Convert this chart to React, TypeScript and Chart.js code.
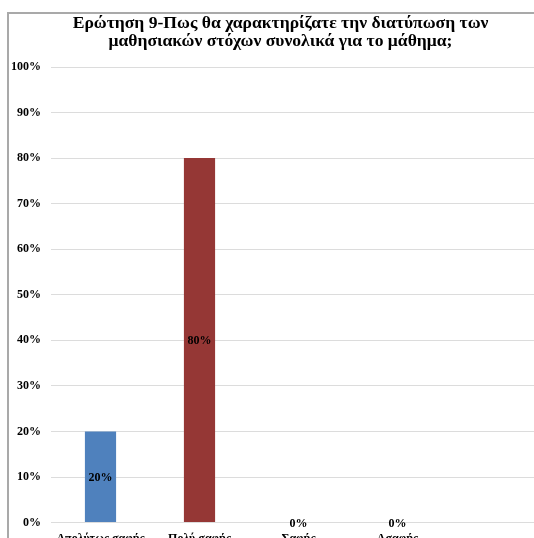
import React, { useEffect, useRef } from "react";
import { Chart, registerables } from "chart.js";

Chart.register(...registerables);

// Survey question 9: clarity of the stated learning goals (share of answers)
const titleLines = [
  "Ερώτηση 9-Πως θα χαρακτηρίζατε την διατύπωση των",
  "μαθησιακών στόχων συνολικά για το μάθημα;",
];
const categories = ["Απολύτως σαφής", "Πολύ σαφής", "Σαφής", "Ασαφής", ""];
const percentages: (number | null)[] = [20, 80, 0, 0, null];
const barColors = ["#4F81BD", "#953735", "#9BBB59", "#8064A2", "#4BACC6"];
const yTicks = [0, 10, 20, 30, 40, 50, 60, 70, 80, 90, 100];

const FONT = "'Liberation Serif', 'Times New Roman', serif";

// Two-line bold title, centred on the canvas
const chartTitle = {
  id: "chartTitle",
  afterDraw(chart: Chart) {
    const ctx = chart.ctx;
    ctx.save();
    ctx.font = `bold 17.6px ${FONT}`;
    ctx.fillStyle = "#000000";
    ctx.textAlign = "center";
    ctx.textBaseline = "middle";
    titleLines.forEach((line, i) => {
      ctx.fillText(line, chart.width / 2 - 1.5, 23 + i * 18.5);
    });
    ctx.restore();
  },
};

// Writes each bar's percentage in the middle of the bar
const valueLabels = {
  id: "valueLabels",
  afterDatasetsDraw(chart: Chart) {
    const ctx = chart.ctx;
    const meta = chart.getDatasetMeta(0);
    ctx.save();
    ctx.font = `bold 12px ${FONT}`;
    ctx.fillStyle = "#000000";
    ctx.textAlign = "center";
    ctx.textBaseline = "middle";
    meta.data.forEach((el: any, i: number) => {
      const v = percentages[i];
      if (v === null || v === undefined) return;
      const yMid = (el.y + el.base) / 2;
      ctx.fillText(`${v}%`, el.x, yMid + 1);
    });
    ctx.restore();
  },
};

export default function App() {
  const canvasRef = useRef<HTMLCanvasElement>(null);

  useEffect(() => {
    if (!canvasRef.current) return;
    const chart = new Chart(canvasRef.current, {
      type: "bar",
      data: {
        labels: categories,
        datasets: [
          {
            data: percentages,
            backgroundColor: barColors,
            borderWidth: 0,
            categoryPercentage: 1,
            barPercentage: 0.315,
          },
        ],
      },
      options: {
        responsive: false,
        animation: false,
        layout: { padding: { left: 10, right: 18, top: 67, bottom: 15 } },
        plugins: {
          legend: { display: false },
          tooltip: { enabled: false },
          title: { display: false },
        },
        scales: {
          x: {
            grid: { display: false, drawTicks: false },
            border: { display: false },
            ticks: {
              color: "#000000",
              font: { family: FONT, size: 12, weight: "bold" },
              padding: 9,
              maxRotation: 0,
              autoSkip: false,
            },
          },
          y: {
            min: 0,
            max: 100,
            afterFit(scale: any) {
              scale.width = 41;
            },
            afterBuildTicks(scale: any) {
              scale.ticks = yTicks.map((v) => ({ value: v }));
            },
            grid: { color: "#dcdcdc", lineWidth: 1, drawTicks: false },
            border: { display: false },
            ticks: {
              color: "#000000",
              font: { family: FONT, size: 12, weight: "bold" },
              padding: 10,
              callback: (v: any) => `${v}%`,
            },
          },
        },
      },
      plugins: [valueLabels, chartTitle],
    });
    return () => chart.destroy();
  }, []);

  return (
    <div
      style={{
        position: "fixed",
        left: 0,
        top: 0,
        width: 534,
        height: 538,
        overflow: "hidden",
        background: "#ffffff",
      }}
    >
      <canvas
        ref={canvasRef}
        width={564}
        height={570}
        style={{ position: "absolute", left: 0, top: 0 }}
      />
      <div
        style={{
          position: "absolute",
          left: 7,
          top: 12,
          width: 552,
          height: 600,
          border: "2px solid #a9a9a9",
          boxSizing: "border-box",
          pointerEvents: "none",
        }}
      />
    </div>
  );
}
